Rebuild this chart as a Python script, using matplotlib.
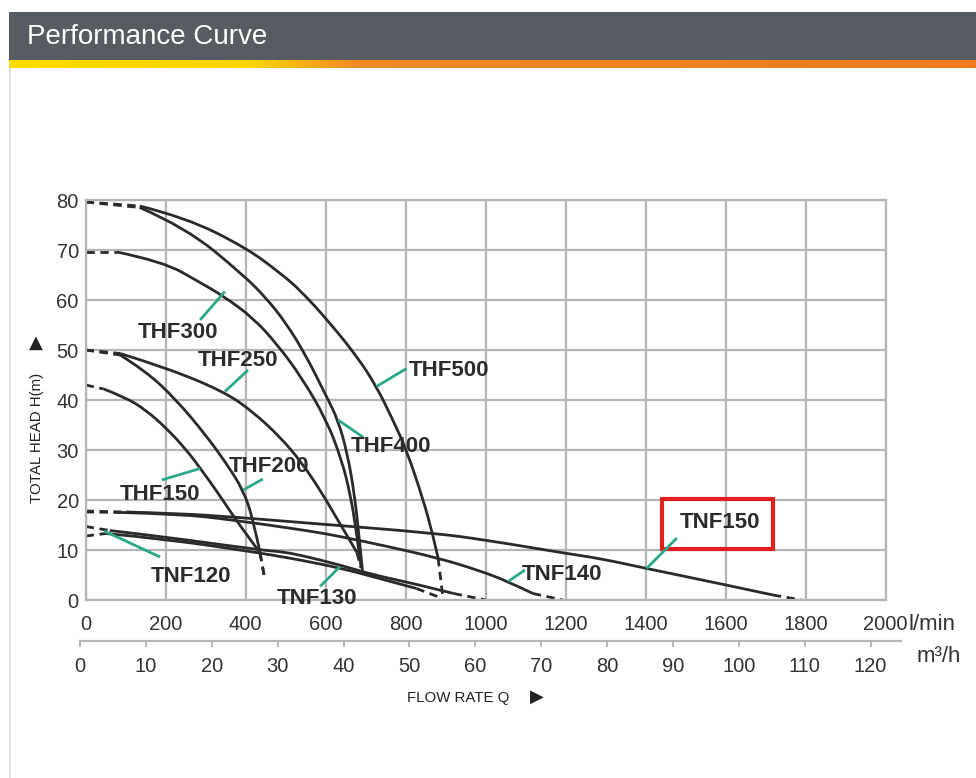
import matplotlib.pyplot as plt
import numpy as np
from matplotlib.patches import Rectangle, PathPatch
from matplotlib.path import Path
from matplotlib.colors import LinearSegmentedColormap

plt.rcParams['font.family'] = ['Liberation Sans', 'DejaVu Sans']

W, H = 976, 778

# 流量 l/min, 扬程 m  (每条曲线: 第一段和最后一段是虚线)
thf500_q = [0, 135, 250, 402, 486, 536, 611, 680, 727, 768, 802, 844, 868, 881, 893]
thf500_h = [79.6, 78.8, 76.5, 70.4, 65.4, 62.0, 55.4, 48.5, 42.7, 36.0, 30.0, 20.0, 13.0, 8.4, 0.5]
thf400_q = [0, 135, 250, 394, 450, 500, 550, 600, 631, 655, 672, 683, 690, 693]
thf400_h = [79.6, 78.5, 74.5, 65.0, 60.5, 55.5, 49.0, 41.0, 36.0, 29.0, 21.0, 13.0, 7.5, 5.0]
thf300_q = [0, 78, 193, 286, 344, 419, 480, 540, 602, 640, 662, 678, 686, 690]
thf300_h = [69.6, 69.6, 67.7, 63.5, 60.8, 56.4, 51.0, 44.5, 36.0, 28.0, 21.0, 13.0, 8.0, 5.5]
thf250_q = [0, 86, 200, 348, 420, 486, 540, 590, 630, 660, 678, 688]
thf250_h = [50.0, 49.3, 46.5, 41.6, 37.5, 32.6, 27.5, 21.5, 16.0, 12.0, 9.5, 6.5]
thf200_q = [0, 86, 150, 227, 300, 350, 394, 419, 436, 448]
thf200_h = [50.0, 49.0, 45.8, 40.0, 33.0, 27.5, 22.0, 16.0, 9.4, 4.0]
thf150_q = [0, 45, 100, 150, 200, 250, 286, 330, 369, 405, 436, 448]
thf150_h = [43.0, 42.2, 40.5, 38.0, 34.5, 30.2, 26.4, 21.5, 16.8, 12.8, 9.4, 4.0]
tnf150_q = [0, 100, 235, 369, 569, 869, 1000, 1202, 1286, 1402, 1602, 1718, 1790]
tnf150_h = [17.8, 17.6, 17.3, 16.6, 15.3, 13.4, 12.0, 9.3, 8.3, 6.3, 3.0, 1.0, 0.0]
tnf140_q = [0, 90, 235, 369, 569, 636, 750, 881, 980, 1056, 1118, 1193]
tnf140_h = [17.6, 17.5, 17.2, 16.0, 13.7, 12.7, 10.8, 8.4, 6.0, 3.7, 1.3, 0.0]
tnf130_q = [0, 60, 200, 436, 486, 536, 636, 720, 820, 920, 1000]
tnf130_h = [14.7, 13.9, 12.6, 10.0, 9.7, 9.0, 7.0, 5.0, 3.3, 1.3, 0.0]
tnf120_q = [0, 50, 200, 436, 486, 536, 636, 730, 827, 886]
tnf120_h = [12.8, 13.3, 12.2, 9.4, 8.7, 8.0, 6.4, 4.4, 2.3, 0.5]

curves = [(thf500_q, thf500_h), (thf400_q, thf400_h), (thf300_q, thf300_h),
          (thf250_q, thf250_h), (thf200_q, thf200_h), (thf150_q, thf150_h),
          (tnf150_q, tnf150_h), (tnf140_q, tnf140_h), (tnf130_q, tnf130_h),
          (tnf120_q, tnf120_h)]

lmin_ticks = list(range(0, 2001, 200))
m3h_ticks = list(range(0, 121, 10))
head_ticks = list(range(0, 81, 10))

fig = plt.figure(figsize=(W / 100, H / 100), dpi=100)

def fx(x):
    return x / W

def fy(y):
    return 1 - y / H

# 标题栏
fig.add_artist(Rectangle((fx(9), fy(60)), fx(W - 9), 48 / H, transform=fig.transFigure,
                         facecolor='#575c63', edgecolor='none'))
fig.text(fx(27), fy(37), 'Performance Curve', color='white', fontsize=20, va='center', ha='left')
strip = fig.add_axes([fx(9), fy(68), fx(W - 9), 8 / H])
grad_cmap = LinearSegmentedColormap.from_list('g', [(0, '#ffdc00'), (0.25, '#fbd40a'),
                                                    (0.36, '#ef8a25'), (1, '#ec7b22')])
strip.imshow(np.linspace(0, 1, 400).reshape(1, -1), aspect='auto', cmap=grad_cmap)
strip.axis('off')
fig.add_artist(plt.Line2D([fx(9.5), fx(9.5)], [0, fy(68)], transform=fig.transFigure,
                          color='#d8d8d8', lw=1.2))

# 主坐标
ax = fig.add_axes([fx(85.7), fy(600), fx(800), 400 / H])
ax.set_xlim(0, 2000)
ax.set_ylim(0, 80)
ax.set_xticks(lmin_ticks)
ax.set_yticks(head_ticks)
ax.grid(True, color='#b4b4b9', lw=1.6)
for s in ax.spines.values():
    s.set_color('#b4b4b9')
    s.set_linewidth(1.6)
ax.tick_params(length=0, labelsize=14.5, labelcolor='#333333')
ax.tick_params(axis='x', pad=11)
ax.tick_params(axis='y', pad=5)
ax.set_axisbelow(True)

# 实线部分用二次贝塞尔平滑画出
def smooth_path(q, h):
    pts = np.column_stack([q, h])
    verts = [pts[0]]
    codes = [Path.MOVETO]
    for i in range(1, len(pts) - 1):
        end = pts[i + 1] if i == len(pts) - 2 else (pts[i] + pts[i + 1]) / 2
        verts += [pts[i], end]
        codes += [Path.CURVE3, Path.CURVE3]
    if len(pts) == 2:
        verts.append(pts[1])
        codes.append(Path.LINETO)
    return Path(verts, codes)

for q, h in curves:
    q = np.array(q)
    h = np.array(h)
    ax.plot(q[:2], h[:2], color='#2a2a2a', lw=2, ls=(0, (3, 2)))
    ax.add_patch(PathPatch(smooth_path(q[1:-1], h[1:-1]), facecolor='none',
                           edgecolor='#2a2a2a', lw=2))
    ax.plot(q[-2:], h[-2:], color='#2a2a2a', lw=2, ls=(0, (3, 2)))

# 型号标注
teal = '#2ba88a'
labels = [
    ('THF300', (231, 53.4), [(286, 56), (348, 61.7)]),
    ('THF250', (381, 48.0), [(348, 41.7), (406, 46)]),
    ('THF500', (908, 45.8), [(727, 42.7), (802, 46.3)]),
    ('THF400', (763, 30.8), [(631, 36), (693, 32.6)]),
    ('THF200', (458, 26.8), [(394, 22), (443, 24.2)]),
    ('THF150', (186, 21.2), [(190, 24), (286, 26.3)]),
    ('TNF120', (264, 4.8), [(46, 13.8), (186, 8.6)]),
    ('TNF130', (578, 0.4), [(586, 2.7), (636, 6.7)]),
    ('TNF140', (1191, 5.0), [(1056, 3.7), (1098, 6)]),
    ('TNF150', (1586, 15.6), [(1402, 6.3), (1478, 12.4)]),
]
for name, (tx, ty), leader in labels:
    (x0, y0), (x1, y1) = leader
    ax.plot([x0, x1], [y0, y1], color=teal, lw=2, solid_capstyle='butt')
    ax.text(tx, ty, name, fontsize=16, fontweight='bold', color='#2b2b2b',
            ha='center', va='center')
ax.add_patch(Rectangle((1440, 10.3), 279, 10, facecolor='none', edgecolor='#e0201c',
                       lw=3, clip_on=False))

# m3/h 坐标
ax2 = fig.add_axes([fx(80), fy(640.7), fx(821), 0.0001])
ax2.set_xlim(0, 821 / 6.589)
ax2.set_xticks(m3h_ticks)
for s in ['top', 'left', 'right']:
    ax2.spines[s].set_visible(False)
ax2.spines['bottom'].set_color('#b4b4b9')
ax2.spines['bottom'].set_linewidth(1.6)
ax2.set_yticks([])
ax2.tick_params(axis='x', direction='out', length=4, width=1.4, color='#b4b4b9',
                labelsize=14.5, labelcolor='#333333', pad=8)
ax2.patch.set_visible(False)

fig.text(fx(909), fy(624), 'l/min', fontsize=16, color='#333333', va='center', ha='left')
fig.text(fx(917), fy(657), 'm³/h', fontsize=16, color='#333333', va='center', ha='left')
fig.text(fx(407), fy(698), 'FLOW RATE Q', fontsize=10.8, color='#222222', va='center', ha='left')
fig.text(fx(530), fy(697), '▶', fontsize=13, color='#222222', va='center', ha='left',
         family=['DejaVu Sans'])
fig.text(fx(37), fy(438), 'TOTAL HEAD H(m)', fontsize=10.8, color='#222222', va='center',
         ha='center', rotation=90)
fig.text(fx(36), fy(343), '▲', fontsize=13, color='#222222', va='center', ha='center',
         family=['DejaVu Sans'])

fig.savefig('out.png', dpi=100)
